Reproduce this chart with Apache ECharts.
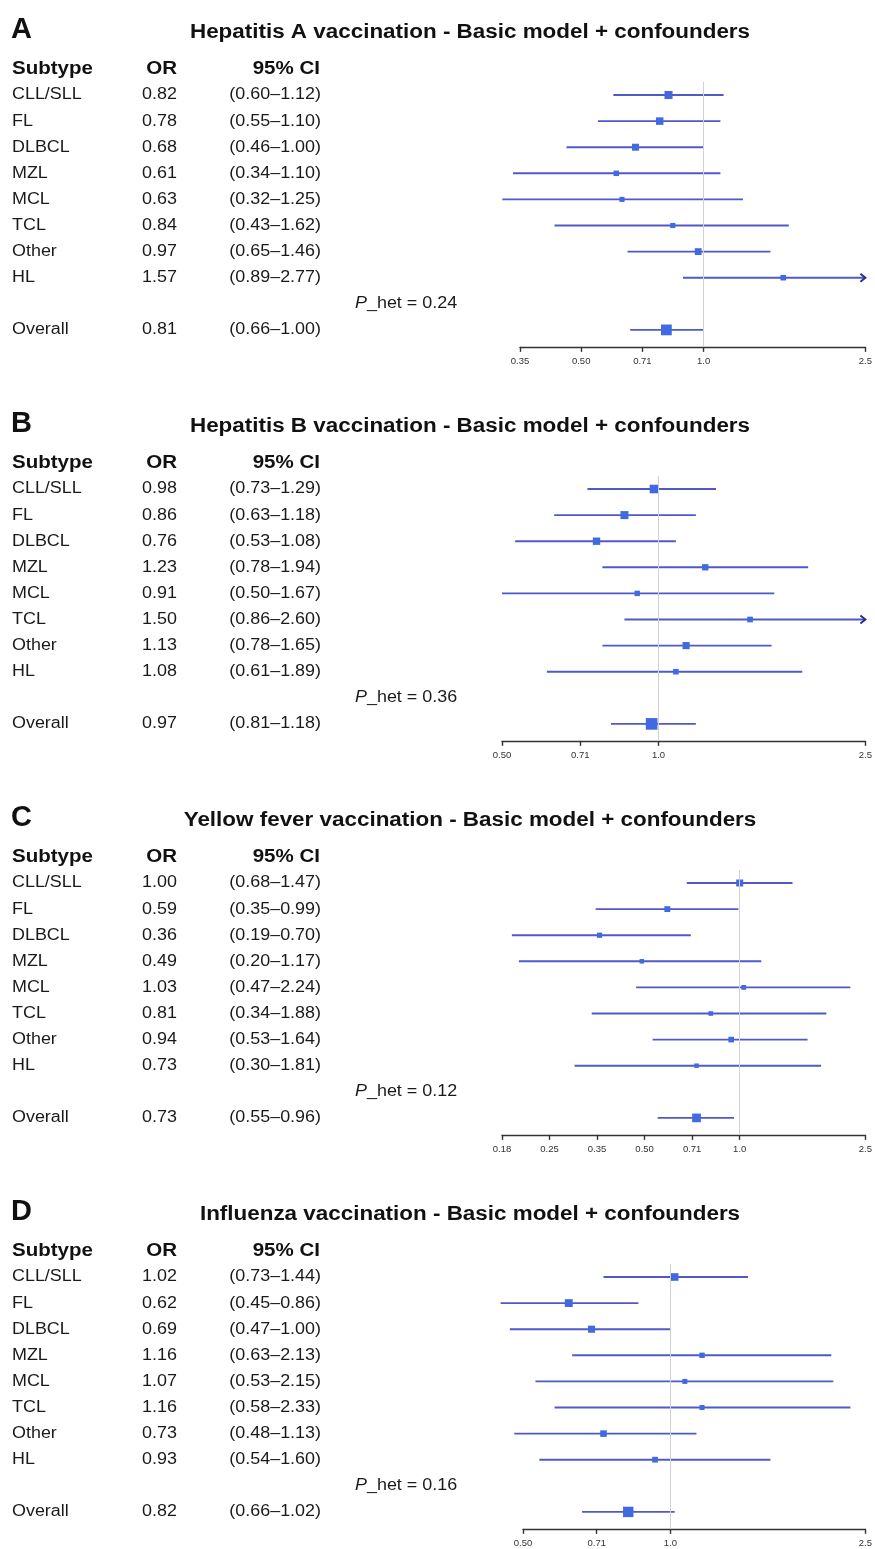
<!DOCTYPE html>
<html><head><meta charset="utf-8">
<script src="https://cdn.jsdelivr.net/npm/echarts@6/dist/echarts.min.js"></script>
<style>html,body{margin:0;padding:0;background:#fff}#c{width:875px;height:1549px}</style>
</head><body><div id="c"></div>
<script>
// ---------- data ----------
const subtypes = ['CLL/SLL','FL','DLBCL','MZL','MCL','TCL','Other','HL'];
const panelLetters = ['A','B','C','D'];
const panelTitles = [
  'Hepatitis A vaccination - Basic model + confounders',
  'Hepatitis B vaccination - Basic model + confounders',
  'Yellow fever vaccination - Basic model + confounders',
  'Influenza vaccination - Basic model + confounders'
];
// Panel A: Hepatitis A
const orA = [0.82,0.78,0.68,0.61,0.63,0.84,0.97,1.57];
const loA = [0.60,0.55,0.46,0.34,0.32,0.43,0.65,0.89];
const hiA = [1.12,1.10,1.00,1.10,1.25,1.62,1.46,2.77];
// Panel B: Hepatitis B
const orB = [0.98,0.86,0.76,1.23,0.91,1.50,1.13,1.08];
const loB = [0.73,0.63,0.53,0.78,0.50,0.86,0.78,0.61];
const hiB = [1.29,1.18,1.08,1.94,1.67,2.60,1.65,1.89];
// Panel C: Yellow fever
const orC = [1.00,0.59,0.36,0.49,1.03,0.81,0.94,0.73];
const loC = [0.68,0.35,0.19,0.20,0.47,0.34,0.53,0.30];
const hiC = [1.47,0.99,0.70,1.17,2.24,1.88,1.64,1.81];
// Panel D: Influenza
const orD = [1.02,0.62,0.69,1.16,1.07,1.16,0.73,0.93];
const loD = [0.73,0.45,0.47,0.63,0.53,0.58,0.48,0.54];
const hiD = [1.44,0.86,1.00,2.13,2.15,2.33,1.13,1.60];
// Overall estimates
const overallOR = [0.81,0.97,0.73,0.82];
const overallLo = [0.66,0.81,0.55,0.66];
const overallHi = [1.00,1.18,0.96,1.02];
const pHet = ['0.24','0.36','0.12','0.16'];
// Axis ticks
const tickValsA = [0.3536,0.5,0.7071,1,2.5];
const tickLabelsA = ['0.35','0.50','0.71','1.0','2.5'];
const tickValsB = [0.5,0.7071,1,2.5];
const tickLabelsB = ['0.50','0.71','1.0','2.5'];
const tickValsC = [0.1768,0.25,0.3536,0.5,0.7071,1,2.5];
const tickLabelsC = ['0.18','0.25','0.35','0.50','0.71','1.0','2.5'];
const tickValsD = [0.5,0.7071,1,2.5];
const tickLabelsD = ['0.50','0.71','1.0','2.5'];

// ---------- layout ----------
const PANEL_H = 394, ROW_H = 26.1, ROW1_Y = 95;
const gridLefts = [520,502,502,523];
const LINE = '#5159c9', BOX = '#4169e1', FONT = 'Liberation Sans, Arial, sans-serif';
const SX = 1.12;
const rowY = (k, r) => ROW1_Y + k*PANEL_H + (r-1)*ROW_H;

const panels = [
  {or:orA, lo:loA, hi:hiA, tv:tickValsA, tl:tickLabelsA},
  {or:orB, lo:loB, hi:hiB, tv:tickValsB, tl:tickLabelsB},
  {or:orC, lo:loC, hi:hiC, tv:tickValsC, tl:tickLabelsC},
  {or:orD, lo:loD, hi:hiD, tv:tickValsD, tl:tickLabelsD}
];

const grids = [], xAxes = [], yAxes = [], series = [], graphics = [];
panels.forEach((p, k) => {
  grids.push({left: gridLefts[k], right: 7, top: rowY(k, 0.5), height: ROW_H*(10.65-0.5)});
  xAxes.push({
    type:'log', gridIndex:k, min:p.tv[0], max:p.tv[p.tv.length-1],
    axisLine:{show:true, lineStyle:{color:'#333', width:1.4}},
    axisTick:{show:true, customValues:p.tv, length:5, lineStyle:{color:'#333', width:1.4}},
    axisLabel:{show:true, customValues:p.tv, margin:10, fontSize:9.5, color:'#333', fontFamily:FONT,
      formatter:(v)=>{ let best=0; p.tv.forEach((t,i)=>{ if(Math.abs(Math.log(t/v))<Math.abs(Math.log(p.tv[best]/v))) best=i; }); return p.tl[best]; }},
    splitLine:{show:false}, minorTick:{show:false}
  });
  yAxes.push({type:'value', gridIndex:k, min:0.5, max:10.65, inverse:true, show:false});
  const data = p.or.map((v,i)=>[v, i+1, p.lo[i], p.hi[i], 0]);
  data.push([overallOR[k], 10, overallLo[k], overallHi[k], 1]);
  series.push({
    type:'custom', xAxisIndex:k, yAxisIndex:k, clip:false, silent:true,
    data: data,
    encode:{x:0, y:1},
    renderItem:(params, api)=>{
      const i = params.dataIndex;
      const or = api.value(0), row = api.value(1), lo = api.value(2), hi = api.value(3), isSum = api.value(4);
      const cs = params.coordSys;
      const pt = api.coord([or,row]);
      const y = pt[1];
      const xl = api.coord([lo,row])[0];
      let xh = api.coord([hi,row])[0];
      const right = cs.x + cs.width;
      const ch = [];
      let arrow = false;
      if (xh > right) { xh = right; arrow = true; }
      ch.push({type:'line', shape:{x1:xl,y1:y,x2:xh,y2:y}, style:{stroke:LINE, lineWidth:1.9}});
      if (arrow) ch.push({type:'polyline', shape:{points:[[xh-5,y-4],[xh,y],[xh-5,y+4]]}, style:{stroke:'#262c94', lineWidth:1.9, fill:null}});
      const s = Math.min(13, 2.6 + 3.4/Math.log(hi/lo));
      ch.push({type:'rect', shape:{x:pt[0]-s/2, y:y-s/2, width:s, height:s}, style:{fill:BOX}});
      const name = isSum ? 'Overall' : subtypes[i];
      const tstyle = (text, align)=>({text, fontSize:16, fontFamily:FONT, fill:'#1a1a1a', align, verticalAlign:'middle'});
      ch.push({type:'text', x:12, y:y, scaleX:SX, style:tstyle(name,'left')});
      ch.push({type:'text', x:177, y:y, scaleX:SX, style:tstyle(or.toFixed(2),'right')});
      ch.push({type:'text', x:321, y:y, scaleX:SX, style:tstyle('(' + lo.toFixed(2) + '\u2013' + hi.toFixed(2) + ')','right')});
      return {type:'group', children:ch};
    },
    markLine:{silent:true, symbol:'none', label:{show:false}, animation:false,
      lineStyle:{color:'#d2d2d2', width:1, type:'solid'}, data:[{xAxis:1}]}
  });
  const off = k*PANEL_H;
  graphics.push({type:'text', x:11, y:30+off, style:{text:panelLetters[k], fontSize:29, fontWeight:'bold', fontFamily:FONT, fill:'#111', verticalAlign:'middle'}});
  graphics.push({type:'text', x:470, y:33+off, scaleX:1.15, style:{text:panelTitles[k], fontSize:19.5, fontWeight:'bold', fontFamily:FONT, fill:'#111', align:'center', verticalAlign:'middle'}});
  const hstyle = (text, align)=>({text, fontSize:18, fontWeight:'bold', fontFamily:FONT, fill:'#111', align, verticalAlign:'middle'});
  const hy = rowY(k,0);
  graphics.push({type:'text', x:12, y:hy, scaleX:1.14, style:hstyle('Subtype','left')});
  graphics.push({type:'text', x:177, y:hy, scaleX:1.14, style:hstyle('OR','right')});
  graphics.push({type:'text', x:320, y:hy, scaleX:1.14, style:hstyle('95% CI','right')});
  graphics.push({type:'text', x:355, y:rowY(k,9), scaleX:SX, style:{
    text:'{i|P}{n|_het = ' + pHet[k] + '}', verticalAlign:'middle',
    rich:{i:{fontSize:16, fontStyle:'italic', fontFamily:FONT, fill:'#1a1a1a'}, n:{fontSize:16, fontFamily:FONT, fill:'#1a1a1a'}}}});
});

const chart = echarts.init(document.getElementById('c'), null, {renderer:'canvas'});
chart.setOption({
  animation:false, backgroundColor:'#fff',
  grid:grids, xAxis:xAxes, yAxis:yAxes, series:series, graphic:graphics
});
</script></body></html>
